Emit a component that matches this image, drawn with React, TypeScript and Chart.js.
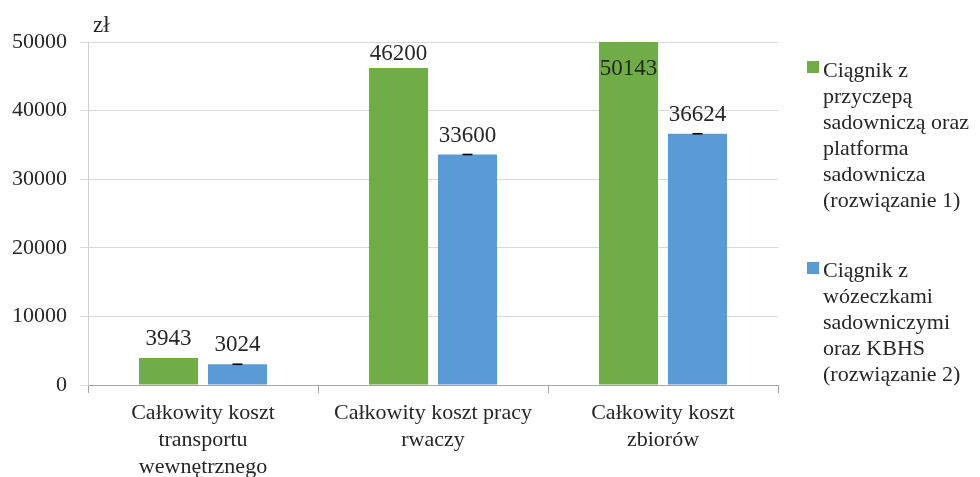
import React, { useEffect, useRef } from "react";
import { Chart, registerables } from "chart.js";

Chart.register(...registerables);

const categories: string[][] = [
  ["Całkowity koszt", "transportu", "wewnętrznego"],
  ["Całkowity koszt pracy", "rwaczy"],
  ["Całkowity koszt", "zbiorów"],
];
const series1Label = "Ciągnik z przyczepą sadowniczą oraz platforma sadownicza (rozwiązanie 1)";
const series2Label = "Ciągnik z wózeczkami sadowniczymi oraz KBHS (rozwiązanie 2)";
const series1Values = [3943, 46200, 50143];
const series2Values = [3024, 33600, 36624];
const series2Errors = [0, 0, 0];
const legend1Lines = ["Ciągnik z", "przyczepą", "sadowniczą oraz", "platforma", "sadownicza", "(rozwiązanie 1)"];
const legend2Lines = ["Ciągnik z", "wózeczkami", "sadowniczymi", "oraz KBHS", "(rozwiązanie 2)"];
const yUnit = "zł";

const GREEN = "#70ad47";
const BLUE = "#5b9bd5";
const TEXT = "#262626";
const FONT = "'Liberation Serif', 'Times New Roman', serif";

const labelsPlugin = {
  id: "valueLabels",
  afterDatasetsDraw(chart: any) {
    const { ctx, chartArea } = chart;
    ctx.save();
    ctx.font = `23px ${FONT}`;
    ctx.fillStyle = TEXT;
    ctx.textAlign = "center";
    ctx.textBaseline = "alphabetic";
    chart.data.datasets.forEach((ds: any, di: number) => {
      const meta = chart.getDatasetMeta(di);
      meta.data.forEach((bar: any, i: number) => {
        const v = ds.data[i];
        let y: number;
        if (bar.y < chartArea.top + 2) {
          y = chartArea.top + 33;
        } else {
          y = bar.y - 13;
          if (y - 17 < chartArea.top + 1) y = chartArea.top + 18;
        }
        ctx.fillText(String(v), bar.x, y);
      });
    });
    // error caps on series 2
    const meta2 = chart.getDatasetMeta(1);
    const yScale = chart.scales.y;
    ctx.strokeStyle = "#000";
    ctx.lineWidth = 1.6;
    meta2.data.forEach((bar: any, i: number) => {
      const v = series2Values[i];
      const e = series2Errors[i];
      const yTop = yScale.getPixelForValue(v + e);
      const yBot = yScale.getPixelForValue(v - e);
      ctx.beginPath();
      ctx.moveTo(bar.x - 5, yTop);
      ctx.lineTo(bar.x + 5, yTop);
      if (e > 0) {
        ctx.moveTo(bar.x, yTop);
        ctx.lineTo(bar.x, yBot);
        ctx.moveTo(bar.x - 5, yBot);
        ctx.lineTo(bar.x + 5, yBot);
      }
      ctx.stroke();
    });
    // unit label
    ctx.font = `23px ${FONT}`;
    ctx.textAlign = "left";
    ctx.fillText(yUnit, chartArea.left + 5, chartArea.top - 10);
    ctx.restore();
  },
};

export default function App() {
  const ref = useRef<HTMLCanvasElement | null>(null);

  useEffect(() => {
    document.body.style.margin = "0";
    if (!ref.current) return;
    const chart = new Chart(ref.current, {
      type: "bar",
      data: {
        labels: categories as any,
        datasets: [
          {
            label: series1Label,
            data: series1Values,
            backgroundColor: GREEN,
            categoryPercentage: 0.6,
            barPercentage: 0.855,
          },
          {
            label: series2Label,
            data: series2Values,
            backgroundColor: BLUE,
            categoryPercentage: 0.6,
            barPercentage: 0.855,
          },
        ],
      },
      options: {
        responsive: false,
        animation: false,
        devicePixelRatio: 1,
        layout: { padding: { top: 42, right: 202, left: 0, bottom: 0 } },
        plugins: {
          legend: { display: false },
          tooltip: { enabled: false },
        },
        scales: {
          x: {
            grid: {
              drawOnChartArea: false,
              drawTicks: true,
              tickLength: 8,
              color: "#a6a6a6",
              offset: true,
            },
            border: { display: true, color: "#a6a6a6", width: 1 },
            ticks: {
              color: TEXT,
              font: { family: FONT, size: 22, lineHeight: 1.22 },
              padding: 7,
              maxRotation: 0,
              autoSkip: false,
            },
            afterFit: (scale: any) => {
              scale.height = 92;
            },
          },
          y: {
            min: 0,
            max: 50000,
            ticks: {
              stepSize: 10000,
              color: TEXT,
              font: { family: FONT, size: 22 },
              padding: 13,
              callback: (value: any) => String(value),
            },
            grid: { color: "#d9d9d9", tickLength: 8 },
            border: { display: true, color: "#d0d0d0" },
            afterFit: (scale: any) => {
              scale.width = 88;
            },
          },
        },
      },
      plugins: [labelsPlugin],
    });
    return () => chart.destroy();
  }, []);

  const legendText: React.CSSProperties = {
    position: "absolute",
    left: 823,
    fontFamily: FONT,
    fontSize: 22,
    lineHeight: "26px",
    color: TEXT,
    whiteSpace: "nowrap",
  };
  const box = (top: number, color: string): React.CSSProperties => ({
    position: "absolute",
    left: 807,
    top,
    width: 12,
    height: 12,
    background: color,
  });

  return (
    <div style={{ position: "relative", width: 980, height: 477, overflow: "hidden", background: "#fff" }}>
      <canvas ref={ref} width={980} height={477} style={{ width: 980, height: 477, display: "block" }} />
      <div style={box(61, GREEN)} />
      <div style={{ ...legendText, top: 57 }}>
        {legend1Lines.map((l, i) => (
          <div key={i}>{l}</div>
        ))}
      </div>
      <div style={box(262, BLUE)} />
      <div style={{ ...legendText, top: 257 }}>
        {legend2Lines.map((l, i) => (
          <div key={i}>{l}</div>
        ))}
      </div>
    </div>
  );
}
